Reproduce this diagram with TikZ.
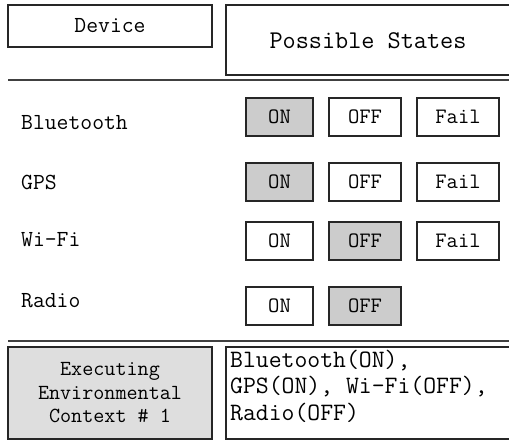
\documentclass[tikz,border=0pt]{standalone}
\usepackage{fontspec}
\begin{document}
\begin{tikzpicture}[x=1pt,y=-1pt,
    box/.style={draw=black!85,line width=1.6pt,inner sep=0pt},
    state/.style={box,minimum height=38pt,font=\ttfamily\fontsize{22}{24}\selectfont},
    active/.style={fill=black!20},
    devlabel/.style={anchor=west,inner sep=0pt,font=\ttfamily\fontsize{23}{26}\selectfont},
    sep/.style={draw=black!75,line width=1.2pt}]
  \clip (0,0) rectangle (509,441);
  % header
  \node[box,minimum width=204pt,minimum height=42pt,font=\ttfamily\fontsize{23}{26}\selectfont] (device) at (110,26) {Device};
  \node[box,minimum width=290pt,minimum height=70pt] (states) at (371,40) {};
  \node[font=\ttfamily\fontsize{25.5}{28}\selectfont] (stateshead) at (368,41) {Possible States};
  \draw[sep] (8,80) -- (515,80);
  % devices
  \draw
    (21,123) node[devlabel] (bt){Bluetooth}
    (21,182) node[devlabel] (gps){GPS}
    (21,240) node[devlabel] (wifi){Wi-Fi}
    (21,301) node[devlabel] (radio){Radio};
  % states
  \node[state,active,minimum width=67pt] (bton) at (279.5,117) {ON};
  \node[state,minimum width=72pt] (btoff) at (365,117) {OFF};
  \node[state,minimum width=82pt] (btfail) at (458,117) {Fail};
  \node[state,active,minimum width=67pt] (gpson) at (279.5,182) {ON};
  \node[state,minimum width=72pt] (gpsoff) at (365,182) {OFF};
  \node[state,minimum width=82pt] (gpsfail) at (458,182) {Fail};
  \node[state,minimum width=67pt] (wifion) at (279.5,241) {ON};
  \node[state,active,minimum width=72pt] (wifioff) at (365,241) {OFF};
  \node[state,minimum width=82pt] (wififail) at (458,241) {Fail};
  \node[state,minimum width=67pt] (radioon) at (279.5,306) {ON};
  \node[state,active,minimum width=72pt] (radiooff) at (365,306) {OFF};
  \draw[sep] (8,341) -- (515,341);
  % context
  \node[box,fill=black!13,minimum width=204pt,minimum height=92pt,align=center,
    font=\ttfamily\fontsize{21.5}{23.5}\selectfont] (context) at (110,393)
    {Executing\\Environmental\\Context \# 1};
  \node[box,minimum width=290pt,minimum height=92pt] (ctxstates) at (371,393) {};
  \node[anchor=west,inner sep=0pt,align=left,
    font=\ttfamily\fontsize{25}{26.5}\selectfont] (ctxtext) at (230,386)
    {Bluetooth(ON),\\GPS(ON), Wi-Fi(OFF),\\Radio(OFF)};
\end{tikzpicture}
\end{document}
